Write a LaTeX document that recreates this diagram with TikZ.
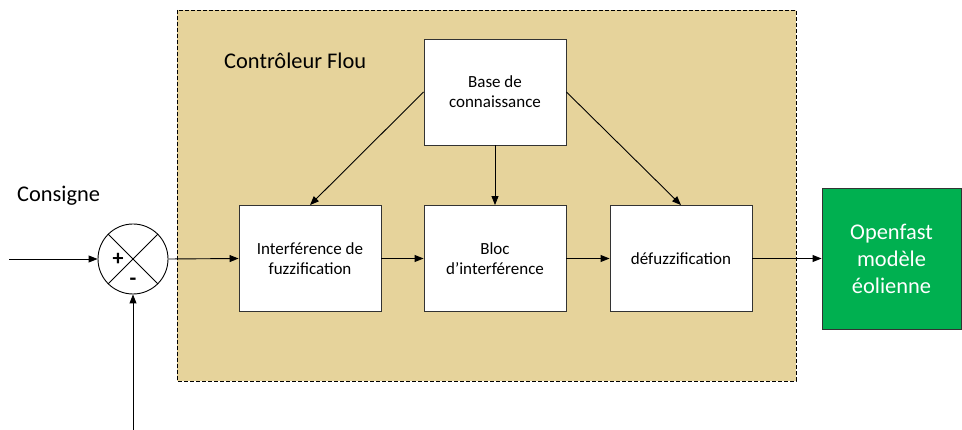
\documentclass[tikz,border=0pt]{standalone}
\usepackage{fontspec}
\setmainfont{Carlito}
\usetikzlibrary{arrows.meta}
\definecolor{tanfill}{RGB}{230,211,155}
\definecolor{greenbox}{RGB}{0,176,80}
\tikzset{
  blk/.style={draw=black!80, line width=0.9pt, fill=white, minimum width=142pt, minimum height=106pt, inner sep=0pt, align=center, font=\fontsize{17}{20}\selectfont},
  conn/.style={line width=0.9pt, -{Triangle[length=9pt,width=7pt]}},
  bigtxt/.style={font=\fontsize{22.4}{27}\selectfont, inner sep=0pt}
}
\begin{document}
\begin{tikzpicture}[x=1pt,y=-1pt]
\useasboundingbox (0,0) rectangle (962,430);
% dashed controller region
\draw[fill=tanfill, line width=0.9pt, dash pattern=on 4pt off 2pt] (177,10) rectangle (796,381);
\node[bigtxt, anchor=west] (title) at (224,61) {Contrôleur Flou};
\node[bigtxt, anchor=west] (consigne) at (17,196) {Consigne};
% blocks
\node[blk] (base) at (495,92) {Base de\\connaissance};
\node[blk] (interf) at (310,258.5) {Interférence de\\fuzzification};
\node[blk] (bloc) at (495,258.5) {Bloc\\d’interférence};
\node[blk] (defuz) at (681,258.5) {défuzzification};
\node[draw=black!80, line width=0.9pt, fill=greenbox, text=white, minimum width=139pt, minimum height=141pt, inner sep=0pt, align=center, font=\fontsize{22.4}{27}\selectfont] (green) at (891.5,258.5) {Openfast\\modèle\\éolienne};
% summing junction
\node[draw, circle, line width=0.9pt, fill=white, minimum size=70pt, inner sep=0pt] (sum) at (133,259) {};
\draw[line width=0.9pt] (sum.north west) -- (sum.south east);
\draw[line width=0.9pt] (sum.north east) -- (sum.south west);
\node[font=\fontsize{22}{22}\selectfont\bfseries, inner sep=0pt] (plus) at (118,259.5) {+};
\node[font=\fontsize{22}{22}\selectfont\bfseries, inner sep=0pt] (minus) at (133,282) {-};
% connectors
\coordinate (inp) at (9,259);
\coordinate (fb) at (133,430);
\draw[conn] (inp) -- (sum.west);
\draw[conn] (fb) -- (sum.south);
\draw[conn] (sum.east) -- (interf.west);
\draw[conn] (interf.east) -- (bloc.west);
\draw[conn] (bloc.east) -- (defuz.west);
\draw[conn] (defuz.east) -- (green.west);
\draw[conn] (base.west) -- (interf.north);
\draw[conn] (base.south) -- (bloc.north);
\draw[conn] (base.east) -- (defuz.north);
\end{tikzpicture}
\end{document}
